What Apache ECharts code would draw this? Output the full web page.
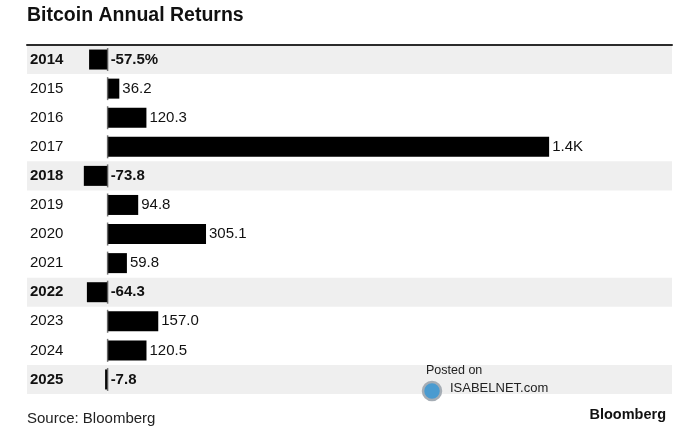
<!DOCTYPE html>
<html>
<head>
    <meta charset="utf-8">
    <title>Bitcoin Annual Returns</title>
    <script src="https://cdn.jsdelivr.net/npm/echarts@6/dist/echarts.min.js"></script>
    <style>
        html, body { margin: 0; padding: 0; background: #fff; }
        #chart { width: 700px; height: 430px; }
    </style>
</head>
<body>
<div id="chart"></div>
<script>
    var years = ['2014', '2015', '2016', '2017', '2018', '2019', '2020', '2021', '2022', '2023', '2024', '2025'];
    var returns = [-57.5, 36.2, 120.3, 1369, -73.8, 94.8, 305.1, 59.8, -64.3, 157.0, 120.5, -7.8];
    var valueLabels = ['-57.5%', '36.2', '120.3', '1.4K', '-73.8', '94.8', '305.1', '59.8', '-64.3', '157.0', '120.5', '-7.8'];

    var xMin = -250, xMax = 1750;
    var band = '#efefef';
    var font = 'Liberation Sans, Arial, sans-serif';

    var chart = echarts.init(document.getElementById('chart'));

    // grey band rows = negative years, bold labels there too
    var yearData = years.map(function (y, i) {
        return returns[i] < 0 ? {value: y, textStyle: {fontWeight: 'bold'}} : y;
    });
    var bandPos = returns.map(function (v) { return v < 0 ? xMax : '-'; });
    var bandNeg = returns.map(function (v) { return v < 0 ? xMin : '-'; });

    var barData = returns.map(function (v, i) {
        return {
            value: v,
            label: {
                formatter: valueLabels[i],
                fontWeight: v < 0 ? 'bold' : 'normal'
            }
        };
    });

    var option = {
        animation: false,
        textStyle: {fontFamily: font},
        title: {
            text: 'Bitcoin Annual Returns',
            left: 22,
            top: 1,
            textStyle: {fontSize: 19.5, fontWeight: 'bold', color: '#111'}
        },
        grid: {left: 27, right: 28, top: 45, height: 349, containLabel: false},
        xAxis: {
            type: 'value',
            min: xMin,
            max: xMax,
            position: 'top',
            axisLine: {show: true, onZero: false, lineStyle: {color: '#2b2b2b', width: 2}},
            axisTick: {show: false},
            axisLabel: {show: false},
            splitLine: {show: false},
            z: 10
        },
        yAxis: [
            {
                type: 'category',
                data: yearData,
                inverse: true,
                z: 10,
                axisLine: {show: false},
                axisTick: {show: false},
                axisLabel: {
                    inside: true,
                    margin: 3,
                    fontSize: 15,
                    color: '#111'
                }
            },
            {
                type: 'category',
                data: years,
                inverse: true,
                show: false
            }
        ],
        series: [
            {
                type: 'bar',
                yAxisIndex: 0,
                stack: 'band',
                data: bandPos,
                barWidth: '100%',
                itemStyle: {color: band},
                silent: true,
                z: 1
            },
            {
                type: 'bar',
                yAxisIndex: 0,
                stack: 'band',
                data: bandNeg,
                barWidth: '100%',
                itemStyle: {color: band},
                silent: true,
                z: 1
            },
            {
                type: 'bar',
                yAxisIndex: 1,
                data: barData,
                barWidth: 20,
                itemStyle: {color: '#000'},
                label: {
                    show: true,
                    position: 'right',
                    distance: 3,
                    fontSize: 15,
                    color: '#111'
                },
                z: 3
            },
            {
                // zero line drawn per row, slightly taller than the bars
                type: 'scatter',
                yAxisIndex: 1,
                data: years.map(function () { return 0; }),
                symbol: 'rect',
                symbolSize: [1.5, 23],
                itemStyle: {color: '#555'},
                silent: true,
                z: 4
            }
        ],
        graphic: [
            {
                type: 'text',
                left: 27,
                top: 411,
                z: 20,
                style: {text: 'Source: Bloomberg', fontSize: 15, fill: '#222', fontFamily: font}
            },
            {
                type: 'text',
                right: 34,
                top: 407,
                z: 20,
                style: {text: 'Bloomberg', fontSize: 14.5, fontWeight: 'bold', fill: '#111', fontFamily: font}
            },
            {
                type: 'text',
                left: 426,
                top: 364,
                z: 20,
                style: {text: 'Posted on', fontSize: 12.5, fill: '#222', fontFamily: font}
            },
            {
                type: 'circle',
                z: 20,
                shape: {cx: 432, cy: 391, r: 9},
                style: {fill: '#4a9bd0', stroke: '#a5adb5', lineWidth: 2.5}
            },
            {
                type: 'text',
                left: 450,
                top: 382,
                z: 20,
                style: {text: 'ISABELNET.com', fontSize: 13, fill: '#222', fontFamily: font}
            }
        ]
    };
    chart.setOption(option);
</script>
</body>
</html>
